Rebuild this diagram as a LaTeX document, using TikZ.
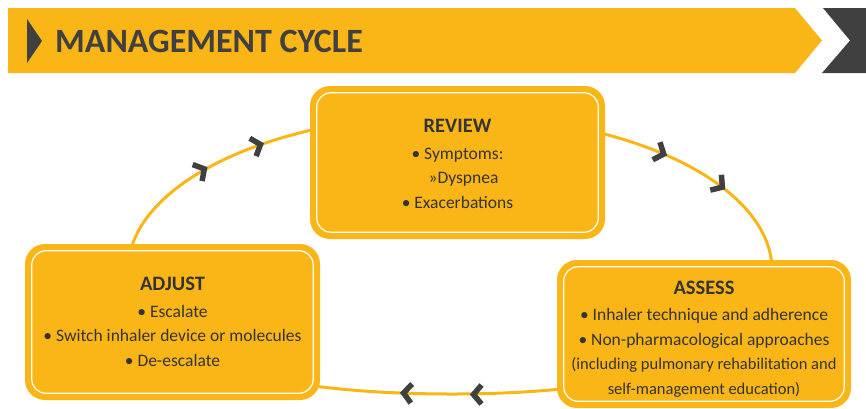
\documentclass[tikz,border=0pt]{standalone}
\usepackage{fontspec}
\setmainfont{Carlito}
\definecolor{gold}{RGB}{250,181,22}
\definecolor{dark}{RGB}{64,64,64}
\definecolor{txt}{RGB}{52,52,52}
\tikzset{
  outerbox/.style={fill=gold, draw=none, rounded corners=20pt, inner sep=0pt},
  innerline/.style={draw=white, line width=1.2pt, rounded corners=14pt},
  cycleline/.style={draw=gold, line width=3pt},
  body/.style={align=center, text=txt, inner sep=0pt, font=\fontsize{17.5}{24.5}\selectfont},
  chev/.pic={\draw[dark, line width=5.5pt, line join=miter, line cap=butt] (-4.5,-9.5)--(3.5,0)--(-4.5,9.5);}
}
\newcommand{\hd}[1]{{\fontsize{20.5}{24.5}\selectfont\bfseries #1}}
\newcommand{\sm}[1]{{\fontsize{16.5}{24}\selectfont #1}}
\begin{document}
\begin{tikzpicture}[x=1pt,y=-1pt]
\useasboundingbox (0,0) rectangle (866,408);
% banner
\fill[gold] (8,8) -- (795,8) -- (822,40.5) -- (795,73) -- (8,73) -- cycle;
\fill[dark] (823,8) -- (866,8) -- (866,73) -- (822,73) -- (850,40.5) -- cycle;
\fill[dark] (27,19) -- (42,41) -- (27,63) -- cycle;
\node[anchor=west, inner sep=0pt, text=dark, font=\fontsize{34}{40}\selectfont\bfseries] (title) at (55,41) {MANAGEMENT CYCLE};
% cycle
\draw[cycleline] plot[domain=0:180, samples=91, smooth] ({450+322*cos(\x)},{270-155*sin(\x)});
\draw[cycleline] (772,270) .. controls (772,370) and (600,394) .. (452,394) .. controls (300,394) and (128,370) .. (128,270);
\pic[rotate=29.6] at (201.3,170.6) {chev};
\pic[rotate=19.5] at (257.2,145.7) {chev};
\pic[rotate=-22.3] at (660.5,152.7) {chev};
\pic[rotate=-36] at (719.5,185.1) {chev};
\pic[rotate=176] at (407,393.2) {chev};
\pic[rotate=180] at (477,394.5) {chev};
% boxes
\node[outerbox, minimum width=295pt, minimum height=153pt] (review) at (457.5,162.5) {};
\draw[innerline] ([shift={(7,-7)}]review.south west) rectangle ([shift={(-7,7)}]review.north east);
\node[outerbox, minimum width=295pt, minimum height=156pt] (adjust) at (172.5,322) {};
\draw[innerline] ([shift={(7,-7)}]adjust.south west) rectangle ([shift={(-7,7)}]adjust.north east);
\node[outerbox, minimum width=294pt, minimum height=148pt] (assess) at (704,334) {};
\draw[innerline] ([shift={(7,-7)}]assess.south west) rectangle ([shift={(-7,7)}]assess.north east);
% texts
\node[body] (reviewtxt) at (457.5,164) {\hd{REVIEW}\\[2pt] • Symptoms:\\ \hspace*{12pt}»Dyspnea\\ • Exacerbations};
\node[body] (adjusttxt) at (172.5,322) {\hd{ADJUST}\\[2pt] • Escalate\\ • Switch inhaler device or molecules\\ • De-escalate};
\node[body] (assesstxt) at (704,339) {\hd{ASSESS}\\[2pt] • Inhaler technique and adherence\\ • Non-pharmacological approaches\\ \sm{(including pulmonary rehabilitation and}\\ \sm{self-management education)}};
\end{tikzpicture}
\end{document}
